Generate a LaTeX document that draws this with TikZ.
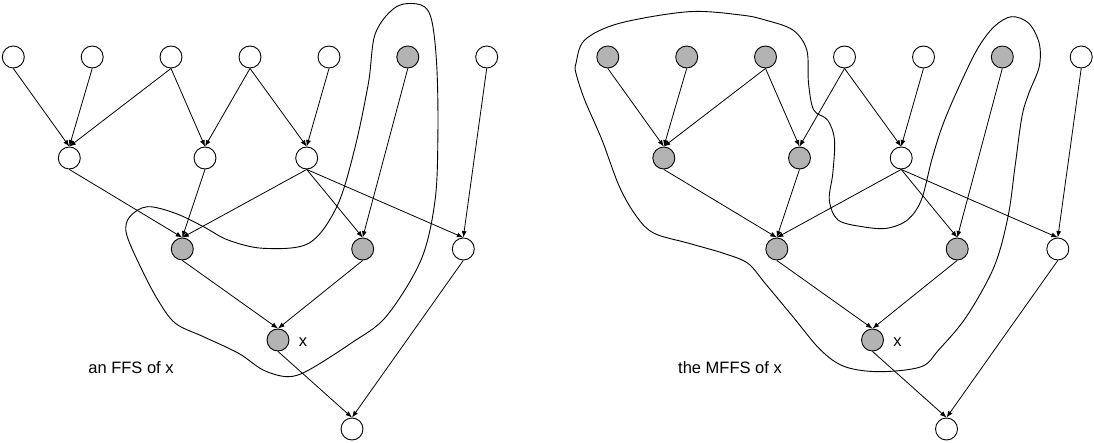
\documentclass[tikz,border=0pt]{standalone}
\usepackage{fontspec}
\setmainfont{Liberation Sans}
\usetikzlibrary{arrows.meta}
\definecolor{shade}{RGB}{179,179,179}

\begin{document}
\begin{tikzpicture}[x=1pt, y=-1pt,
  vtx/.style={circle, draw, line width=0.9pt, minimum size=22pt, inner sep=0pt},
  ed/.style={-{Latex[length=6.5pt,width=5pt]}, line width=0.8pt},
  hull/.style={line width=0.9pt},
  lbl/.style={font=\fontsize{16.5}{19}\selectfont},
]
\useasboundingbox (0,0) rectangle (1094,443);

% ---------- left panel: an FFS ----------
\foreach \i/\x/\f in {0/13.3/white,1/92.2/white,2/171/white,3/250/white,
                      4/329/white,5/407.8/shade,6/486.7/white}
  \node[vtx, fill=\f] (Lt\i) at (\x,57) {};
\foreach \i/\x/\f in {0/69.3/white,1/205/white,2/306.7/white}
  \node[vtx, fill=\f] (Lm\i) at (\x,158) {};
\foreach \i/\x/\f in {0/182.3/shade,1/362.7/shade,2/463.3/white}
  \node[vtx, fill=\f] (Lb\i) at (\x,249) {};
\node[vtx, fill=shade] (Lx) at (278,340) {};
\node[vtx, fill=white] (Lz) at (352,429) {};
\node[lbl] (Lxl) at (303,342) {x};
\node[lbl] (Lcap) at (131,368) {an FFS of x};

\draw[hull] plot[smooth cycle, tension=0.55] coordinates {
  (308.8,243.3) (336.8,206.7) (354.4,150) (368.4,83.3) (375.4,33.3)
  (396.5,6.7) (421,5) (431.6,20) (436.8,66.7) (437.9,133.3) (435.1,200)
  (421,260) (386,316.7) (350.9,343.3) (308.8,370) (287.7,376.7)
  (263.2,370) (238.6,353.3) (203.5,336.7) (175.4,323.3) (157.9,300)
  (140.4,266.7) (126.3,233.3) (129.8,216.7) (147.4,206.7) (175.4,213.3)
  (203.5,226.7) (228,240) (263.2,248.3)};

% ---------- right panel: the MFFS ----------
\begin{scope}[xshift=594.5pt]
\foreach \i/\x/\f in {0/13.3/shade,1/92.2/shade,2/171/shade,3/250/white,
                      4/329/white,5/407.8/shade,6/486.7/white}
  \node[vtx, fill=\f] (Rt\i) at (\x,57) {};
\foreach \i/\x/\f in {0/69.3/shade,1/205/shade,2/306.7/white}
  \node[vtx, fill=\f] (Rm\i) at (\x,158) {};
\foreach \i/\x/\f in {0/182.3/shade,1/362.7/shade,2/463.3/white}
  \node[vtx, fill=\f] (Rb\i) at (\x,249) {};
\node[vtx, fill=shade] (Rx) at (278,340) {};
\node[vtx, fill=white] (Rz) at (352,429) {};
\node[lbl] (Rxl) at (303,342) {x};
\node[lbl] (Rcap) at (135.5,368) {the MFFS of x};
\end{scope}

\draw[hull] plot[smooth cycle, tension=0.55] coordinates {
  (576,63.3) (584.7,40) (619.4,23.3) (688.8,11.7) (740.8,15) (765.1,20)
  (792.9,30) (806.8,50) (808.5,83.3) (813.7,110) (827.6,120) (834.5,140)
  (832.8,173.3) (829.3,200) (838,220) (862.3,226.7) (886.6,228.3)
  (907.4,220) (921.3,200) (931.7,160) (942.1,126.7) (956,93.3)
  (976.8,50) (994.1,26.7) (1011.5,16.7) (1028.8,23.3) (1039.2,43.3)
  (1039.2,66.7) (1028.8,93.3) (1021.9,116.7) (1015,166.7) (1008,216.7)
  (994.1,266.7) (966.4,316.7) (938.6,350) (921.3,366.7) (879.6,371.7)
  (844.9,366.7) (820.6,350) (792.9,316.7) (765.1,283.3) (747.8,263.3)
  (723.5,253.3) (688.8,243.3) (654.1,233.3) (636.7,216.7) (619.4,186.7)
  (602,140) (584.7,100) (576,73.3)};

% ---------- edges, same graph in both panels ----------
\foreach \p in {L,R}
  \foreach \a/\b in {t0/m0,t1/m0,t2/m0,t2/m1,t3/m1,t3/m2,t4/m2,t5/b1,t6/b2,
                     m0/b0,m1/b0,m2/b0,m2/b1,m2/b2,b0/x,b1/x,x/z,b2/z}
    \draw[ed] (\p\a.south) -- (\p\b.north);
\end{tikzpicture}
\end{document}
